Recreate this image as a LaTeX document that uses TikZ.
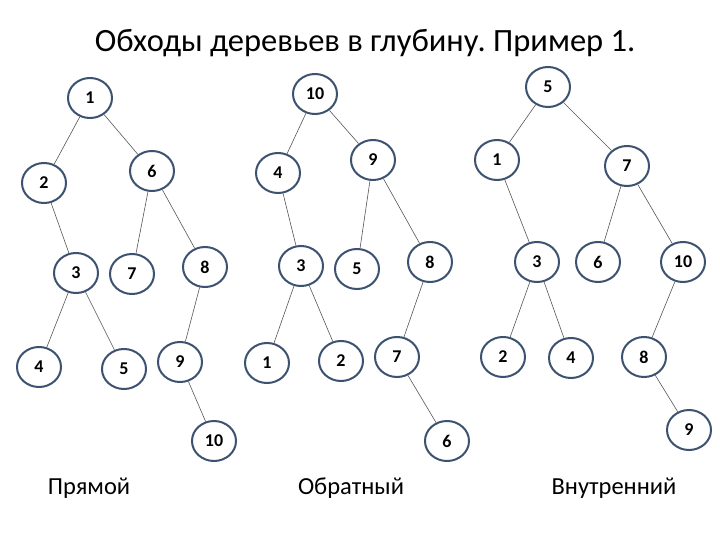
\documentclass[tikz,border=0pt]{standalone}
\usepackage{fontspec}
\setmainfont{Carlito}
\frenchspacing
\usetikzlibrary{shapes.geometric}
\definecolor{ring}{RGB}{60,82,112}
\definecolor{edgec}{RGB}{85,85,85}
\tikzset{
  tn/.style={ellipse,draw=ring,line width=2pt,minimum width=44pt,minimum height=40pt,inner sep=0pt,font=\fontsize{18}{18}\selectfont\bfseries},
  te/.style={draw=edgec,line width=0.6pt},
  captext/.style={font=\fontsize{24.5}{24.5}\selectfont},
}
\begin{document}
\begin{tikzpicture}[x=1pt,y=-1pt]
\useasboundingbox (0,0) rectangle (720,540);
\node[font=\fontsize{32.5}{32.5}\selectfont] (title) at (365,43) {Обходы деревьев в глубину. Пример 1.};
% Tree 1
\node[tn] (a1) at (90,98) {1};
\node[tn] (a2) at (44,183) {2};
\node[tn] (a6) at (152,171) {6};
\node[tn] (a3) at (76,273) {3};
\node[tn] (a7) at (132,274) {7};
\node[tn] (a8) at (205,267) {8};
\node[tn] (a4) at (39,367) {4};
\node[tn] (a5) at (124,369) {5};
\node[tn] (a9) at (180,362) {9};
\node[tn] (a10) at (214,441) {10};
\draw[te] (a1)--(a2); \draw[te] (a1)--(a6); \draw[te] (a2)--(a3);
\draw[te] (a6)--(a7); \draw[te] (a6)--(a8); \draw[te] (a3)--(a4);
\draw[te] (a3)--(a5); \draw[te] (a8)--(a9); \draw[te] (a9)--(a10);
% Tree 2
\node[tn] (b10) at (315,94) {10};
\node[tn] (b4) at (278,173) {4};
\node[tn] (b9) at (373,160) {9};
\node[tn] (b3) at (301,266) {3};
\node[tn] (b5) at (357,269) {5};
\node[tn] (b8) at (430,262) {8};
\node[tn] (b1) at (267,363) {1};
\node[tn] (b2) at (341,361) {2};
\node[tn] (b7) at (397,357) {7};
\node[tn] (b6) at (447,441) {6};
\draw[te] (b10)--(b4); \draw[te] (b10)--(b9); \draw[te] (b4)--(b3);
\draw[te] (b9)--(b5); \draw[te] (b9)--(b8); \draw[te] (b3)--(b1);
\draw[te] (b3)--(b2); \draw[te] (b8)--(b7); \draw[te] (b7)--(b6);
% Tree 3
\node[tn] (c5) at (548,87) {5};
\node[tn] (c1) at (497,160) {1};
\node[tn] (c7) at (627,166) {7};
\node[tn] (c3) at (537,262) {3};
\node[tn] (c6) at (598,262) {6};
\node[tn] (c10) at (683,262) {10};
\node[tn] (c2) at (503,357) {2};
\node[tn] (c4) at (571,358) {4};
\node[tn] (c8) at (644,357) {8};
\node[tn] (c9) at (689,430) {9};
\draw[te] (c5)--(c1); \draw[te] (c5)--(c7); \draw[te] (c1)--(c3);
\draw[te] (c7)--(c6); \draw[te] (c7)--(c10); \draw[te] (c3)--(c2);
\draw[te] (c3)--(c4); \draw[te] (c10)--(c8); \draw[te] (c8)--(c9);
% captions
\node[captext] (l1) at (89,488) {Прямой};
\node[captext] (l2) at (351,488) {Обратный};
\node[captext] (l3) at (614,488) {Внутренний};
\end{tikzpicture}
\end{document}
